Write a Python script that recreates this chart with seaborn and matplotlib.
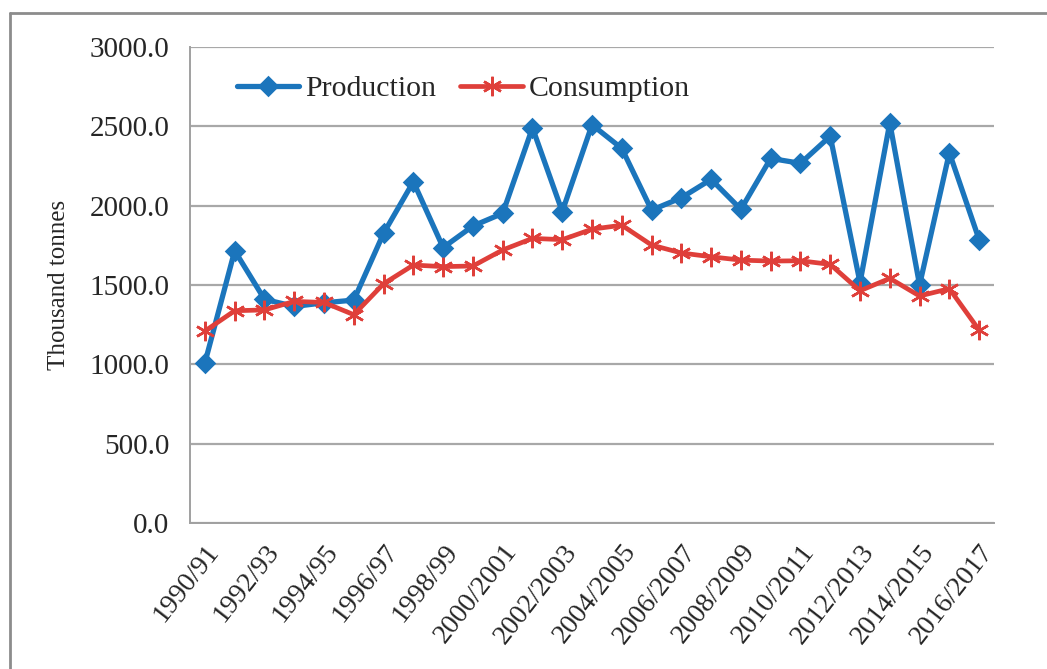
import matplotlib
matplotlib.use("Agg")
import matplotlib.pyplot as plt
from matplotlib.lines import Line2D
import numpy as np
import pandas as pd
import seaborn as sns

seasons = [
    "1990/91", "1991/92", "1992/93", "1993/94", "1994/95", "1995/96",
    "1996/97", "1997/98", "1998/99", "1999/2000", "2000/2001", "2001/2002",
    "2002/2003", "2003/2004", "2004/2005", "2005/2006", "2006/2007",
    "2007/2008", "2008/2009", "2009/2010", "2010/2011", "2011/2012",
    "2012/2013", "2013/2014", "2014/2015", "2015/2016", "2016/2017",
]
production = [
    1010, 1716, 1410, 1365, 1388, 1405, 1826, 2151, 1736, 1872, 1952, 2491,
    1963, 2510, 2361, 1972, 2050, 2166, 1977, 2298, 2267, 2438, 1515, 2522,
    1500, 2334, 1786,
]
consumption = [
    1210, 1338, 1343, 1397, 1390, 1313, 1508, 1626, 1616, 1620, 1721, 1794,
    1786, 1852, 1877, 1752, 1702, 1678, 1657, 1651, 1653, 1630, 1464, 1542,
    1431, 1477, 1216,
]
y_ticks = [0, 500, 1000, 1500, 2000, 2500, 3000]

sns.set_style("white")
plt.rcParams["font.family"] = ["Liberation Serif", "DejaVu Serif"]

df = pd.DataFrame({
    "pos": np.arange(len(seasons)),
    "Production": production,
    "Consumption": consumption,
})

fig = plt.figure(figsize=(10.47, 6.69), dpi=100)
ax = fig.add_axes([0.1815, 0.2182, 0.7679, 0.7115])

styles = {
    "Production": dict(color="#1b75bc", marker="D", ms=9.5, lw=3.8),
    "Consumption": dict(color="#df3f3a", marker=(6, 2, 0), ms=14, lw=3.4),
}
for name, st in styles.items():
    sns.lineplot(
        data=df, x="pos", y=name, ax=ax, color=st["color"], marker=st["marker"],
        markersize=st["ms"], linewidth=st["lw"], markeredgecolor=st["color"],
        markeredgewidth=1.8, label=name, sort=False,
    )

ax.set_xlim(-0.5, len(seasons) - 0.5)
ax.set_ylim(0, 3000)
ax.set_yticks(y_ticks)
ax.set_yticklabels([f"{v:.1f}" for v in y_ticks], fontsize=21)
ax.set_xticks(np.arange(0, len(seasons), 2))
ax.set_xticklabels(seasons[::2], rotation=52, ha="right",
                   rotation_mode="anchor", fontsize=20)
ax.set_xticks(np.arange(-0.5, len(seasons)), minor=True)
ax.tick_params(axis="x", which="major", length=0, pad=12)
ax.tick_params(axis="x", which="minor", length=8, width=1.2, color="#a0a0a0")
ax.tick_params(axis="y", length=8, width=1.2, color="#a0a0a0", pad=7)
ax.set_xlabel("")
ax.set_ylabel("Thousand tonnes", fontsize=18, labelpad=14)

ax.grid(axis="y", color="#a8a8a8", linewidth=1.6)
ax.set_axisbelow(True)
for side in ("top", "right"):
    ax.spines[side].set_visible(False)
for side in ("left", "bottom"):
    ax.spines[side].set_color("#a0a0a0")
    ax.spines[side].set_linewidth(1.4)

ax.legend(loc="upper left", bbox_to_anchor=(0.032, 0.985), ncol=2,
          frameon=False, fontsize=21.5, handlelength=2.1, handletextpad=0.2,
          columnspacing=0.8, borderaxespad=0.3)

# outer chart border (left and top edges)
fig.add_artist(Line2D([10 / 1047, 10 / 1047], [0, 1 - 13 / 669],
                      transform=fig.transFigure, color="#8c8c8c", lw=2))
fig.add_artist(Line2D([10 / 1047, 1], [1 - 13 / 669, 1 - 13 / 669],
                      transform=fig.transFigure, color="#8c8c8c", lw=2))

fig.savefig("out.png", dpi=100)
